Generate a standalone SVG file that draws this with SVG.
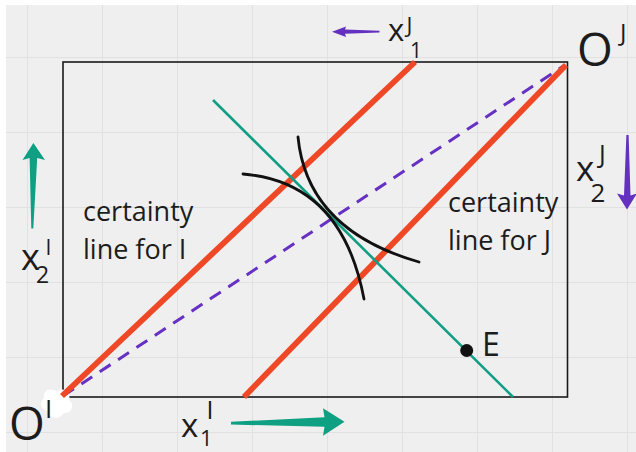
<svg xmlns="http://www.w3.org/2000/svg" width="636" height="452" viewBox="0 0 636 452">
<style>
.grid{stroke:#e1e1e1;stroke-width:1;fill:none}
.box{fill:none;stroke:#1a1a1a;stroke-width:1.6}
.cert{stroke:#ee4826;stroke-width:5.8;stroke-linecap:butt;fill:none}
.diag{stroke:#6630c2;stroke-width:3;stroke-dasharray:13 9;fill:none}
.budget{stroke:#129e84;stroke-width:2.6;fill:none}
.ic{stroke:#111;stroke-width:2.8;fill:none;stroke-linecap:round}
text{font-family:"Open Sans","Noto Sans",sans-serif;fill:#1c1c1c}
.teal{fill:#0f9f82}
.purple{fill:#6430c0}
</style>
<rect x="0" y="0" width="636" height="452" fill="#ffffff"/>
<rect x="6" y="5" width="630" height="447" fill="#efefef"/>
<g id="grid" class="grid">
<path d="M27.5,5V452M102.5,5V452M177.5,5V452M252.5,5V452M327.5,5V452M402.5,5V452M477.5,5V452M552.5,5V452M627.5,5V452"/>
<path d="M6,57.5H636M6,132.5H636M6,207.5H636M6,282.5H636M6,357.5H636M6,432.5H636"/>
</g>
<g id="box">
<rect class="box" x="63" y="62" width="504.5" height="335"/>
</g>
<g id="blob">
<path d="M44,398 C42,390 52,387 57,392 C62,386 72,392 69,400 C75,404 72,414 64,413 C60,420 48,419 48,411 C40,410 39,401 44,398 Z" fill="#ffffff"/>
</g>
<g id="connectors">
<line class="diag" x1="63" y1="396" x2="565" y2="65"/>
<line class="cert" x1="62" y1="396" x2="415" y2="62"/>
<line class="cert" x1="244" y1="397" x2="566" y2="65"/>
<line class="budget" x1="213" y1="100" x2="513" y2="397"/>
</g>
<g id="indifference-curves">
<path class="ic" d="M298,137 Q307,230 419,262"/>
<path class="ic" d="M243,174 Q342,182 364,299"/>
</g>
<g id="E">
<circle cx="466.7" cy="350.5" r="6.5" fill="#111"/>
<text x="482" y="356" font-size="32">E</text>
</g>
<g id="OI">
<text x="9" y="440" font-size="46">O</text>
<text x="45" y="418" font-size="26">I</text>
</g>
<g id="OJ">
<text x="577" y="66" font-size="46">O</text>
<text x="620" y="41" font-size="24">J</text>
</g>
<g id="label-certainty-I">
<text x="83" y="221" font-size="27">certainty</text>
<text x="83" y="259" font-size="27">line for I</text>
</g>
<g id="label-certainty-J">
<text x="448" y="212" font-size="27">certainty</text>
<text x="448" y="250" font-size="27">line for J</text>
</g>
<g id="x1J">
<polygon class="purple" points="332,31.7 346,26.5 345,29.6 379.5,30.8 379.5,32.6 345,33.8 346,37"/>
<text x="388" y="41" font-size="31">x</text>
<text x="406.5" y="33" font-size="22">J</text>
<text x="410" y="58" font-size="21">1</text>
</g>
<g id="x2J">
<text x="576" y="181" font-size="35">x</text>
<text x="599" y="163" font-size="25">J</text>
<text x="590.5" y="201.5" font-size="26">2</text>
<polygon class="purple" points="627,209.5 617,193.5 624,195.5 626.4,135 628.6,135 630.5,195.5 637,193.5"/>
</g>
<g id="x2I">
<polygon class="teal" points="33.4,143 45,160 37.2,158 33.3,228.5 31.3,228.5 29.6,158 22.5,160"/>
<text x="21" y="270" font-size="36">x</text>
<text x="45.5" y="255" font-size="21">I</text>
<text x="36" y="283" font-size="23">2</text>
</g>
<g id="x1I">
<text x="181" y="436.5" font-size="33">x</text>
<text x="206.5" y="419" font-size="25">I</text>
<text x="200" y="446" font-size="22">1</text>
<polygon class="teal" points="344.5,421.7 323,408.3 324.5,417.3 231,421.8 231,424.6 324.5,426.7 323,435.7"/>
</g>
</svg>
